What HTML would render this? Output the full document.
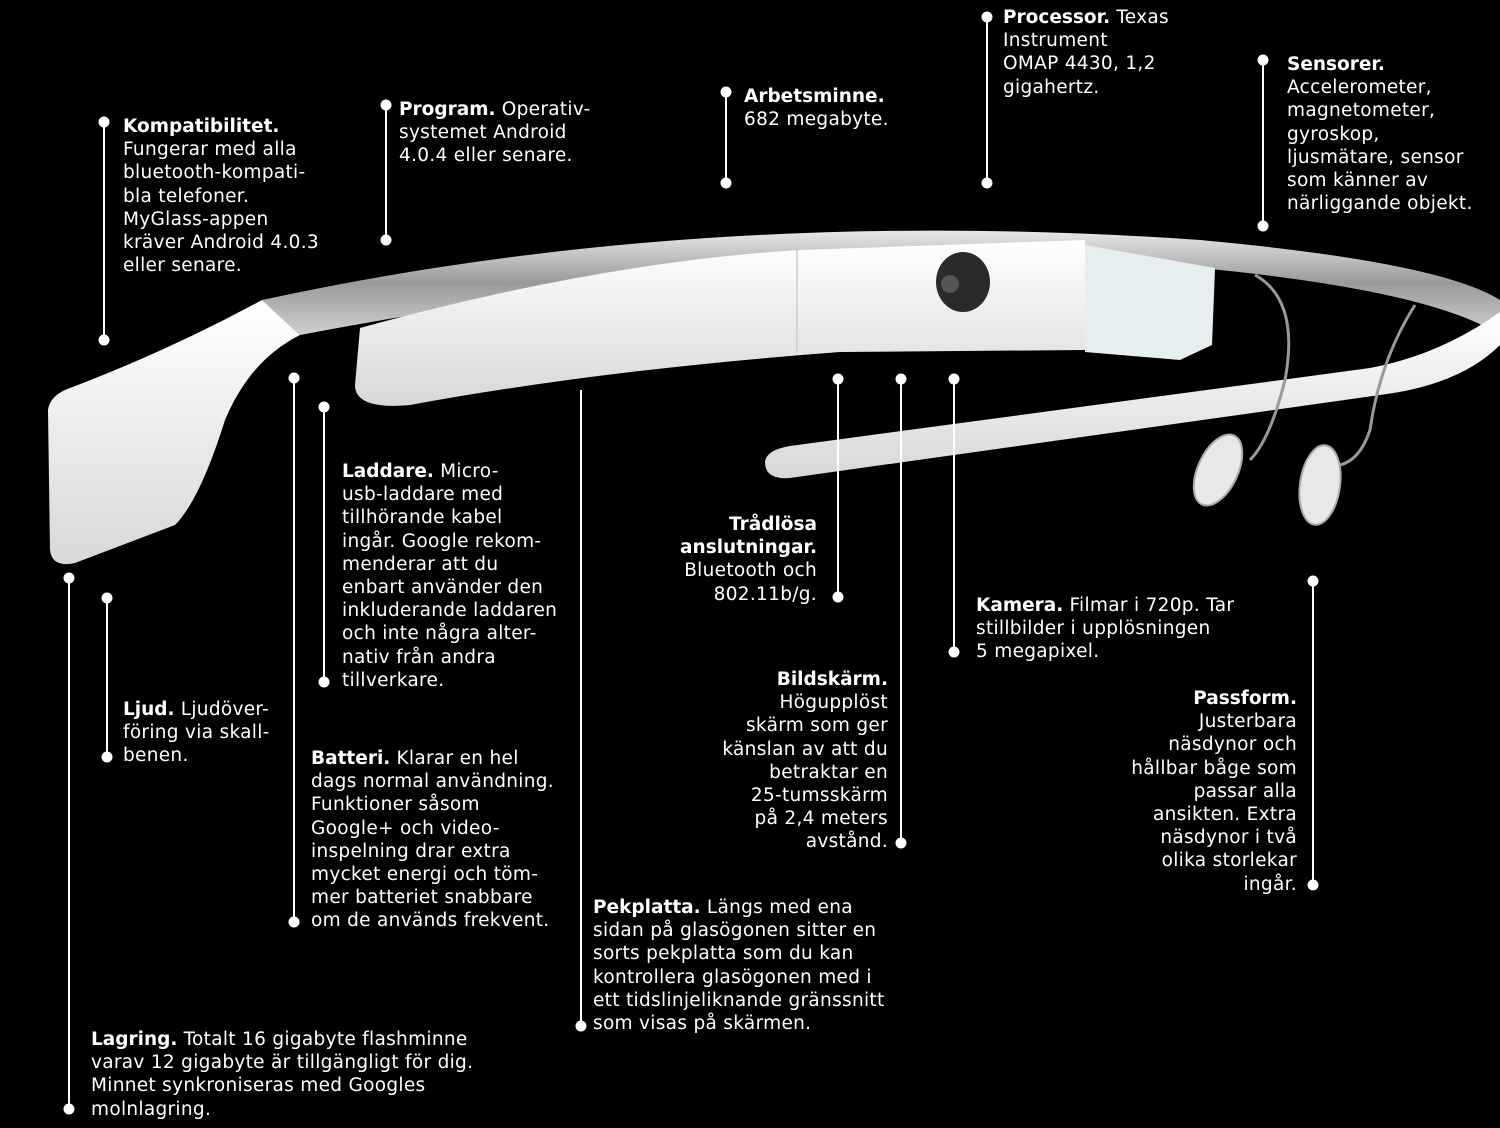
<!DOCTYPE html>
<html><head><meta charset="utf-8"><style>
body{margin:0;background:#000;width:1500px;height:1128px;overflow:hidden;position:relative;font-family:"DejaVu Sans","Liberation Sans",sans-serif;}
.t{position:absolute;color:#fff;font-size:18.5px;line-height:23.2px;white-space:nowrap;letter-spacing:0.3px}
.r{text-align:right}
b{font-weight:bold;letter-spacing:0}
svg{position:absolute;left:0;top:0}
</style></head><body>
<svg width="1500" height="1128">
<defs>
<linearGradient id="band" x1="0" y1="0" x2="0" y2="1"><stop offset="0" stop-color="#e8e8e8"/><stop offset="0.5" stop-color="#9a9a9a"/><stop offset="1" stop-color="#d0d0d0"/></linearGradient>
<linearGradient id="wh" x1="0" y1="0" x2="0" y2="1"><stop offset="0" stop-color="#ffffff"/><stop offset="1" stop-color="#d8d8d8"/></linearGradient>
</defs>
<path d="M262,300 Q700,205 1200,240 Q1440,262 1500,300 L1500,335 Q1430,290 1200,268 Q800,240 300,335 Z" fill="url(#band)"/>
<path d="M1500,312 L1500,345 Q1460,385 1380,395 L790,478 Q765,480 765,462 Q766,450 790,446 L1370,368 Q1440,355 1500,312 Z" fill="url(#wh)"/>
<path d="M262,300 L300,335 Q250,360 225,420 Q200,500 175,525 L75,563 Q52,568 50,550 L48,410 Q50,395 70,388 Q170,350 262,300 Z" fill="url(#wh)"/>
<path d="M360,328 Q600,262 800,250 L1085,240 L1085,350 L840,352 Q600,370 410,405 Q355,410 355,385 Z" fill="url(#wh)"/>
<line x1="797" y1="250" x2="797" y2="352" stroke="#ccc" stroke-width="1.5"/>
<path d="M1085,245 L1215,268 L1212,345 L1180,360 L1085,352 Z" fill="#e6eef0"/>
<ellipse cx="963" cy="282" rx="27" ry="30" fill="#2a2a2a"/>
<circle cx="950" cy="284" r="9" fill="#555"/>
<path d="M1255,275 Q1300,300 1285,380 Q1270,440 1250,460" stroke="#999" stroke-width="3" fill="none"/>
<path d="M1415,305 Q1380,360 1370,430 Q1360,460 1340,465" stroke="#999" stroke-width="3" fill="none"/>
<ellipse cx="1218" cy="470" rx="20" ry="38" transform="rotate(25 1218 470)" fill="#e8e8e8" stroke="#aaa" stroke-width="2"/>
<ellipse cx="1320" cy="485" rx="20" ry="40" transform="rotate(8 1320 485)" fill="#e8e8e8" stroke="#aaa" stroke-width="2"/>
<g stroke="#fff" stroke-width="2" fill="#fff">
<line x1="104" y1="122" x2="104" y2="340"/><circle cx="104" cy="122" r="4.5"/><circle cx="104" cy="340" r="4.5"/>
<line x1="386" y1="105" x2="386" y2="240"/><circle cx="386" cy="105" r="4.5"/><circle cx="386" cy="240" r="4.5"/>
<line x1="726" y1="92" x2="726" y2="183"/><circle cx="726" cy="92" r="4.5"/><circle cx="726" cy="183" r="4.5"/>
<line x1="987" y1="17" x2="987" y2="183"/><circle cx="987" cy="17" r="4.5"/><circle cx="987" cy="183" r="4.5"/>
<line x1="1263" y1="60" x2="1263" y2="226"/><circle cx="1263" cy="60" r="4.5"/><circle cx="1263" cy="226" r="4.5"/>
<line x1="324" y1="407" x2="324" y2="682"/><circle cx="324" cy="407" r="4.5"/><circle cx="324" cy="682" r="4.5"/>
<line x1="838" y1="379" x2="838" y2="597"/><circle cx="838" cy="379" r="4.5"/><circle cx="838" cy="597" r="4.5"/>
<line x1="107" y1="598" x2="107" y2="757"/><circle cx="107" cy="598" r="4.5"/><circle cx="107" cy="757" r="4.5"/>
<line x1="294" y1="378" x2="294" y2="922"/><circle cx="294" cy="378" r="4.5"/><circle cx="294" cy="922" r="4.5"/>
<line x1="901" y1="379" x2="901" y2="843"/><circle cx="901" cy="379" r="4.5"/><circle cx="901" cy="843" r="4.5"/>
<line x1="954" y1="379" x2="954" y2="652"/><circle cx="954" cy="379" r="4.5"/><circle cx="954" cy="652" r="4.5"/>
<line x1="1313" y1="581" x2="1313" y2="885"/><circle cx="1313" cy="581" r="4.5"/><circle cx="1313" cy="885" r="4.5"/>
<line x1="581" y1="390" x2="581" y2="1026"/><circle cx="581" cy="1026" r="4.5"/>
<line x1="69" y1="578" x2="69" y2="1109"/><circle cx="69" cy="578" r="4.5"/><circle cx="69" cy="1109" r="4.5"/>
</g>
</svg>
<div class="t" style="left:123px;top:115px"><b>Kompatibilitet.</b><br>Fungerar med alla<br>bluetooth-kompati-<br>bla telefoner.<br>MyGlass-appen<br>kräver Android 4.0.3<br>eller senare.</div>
<div class="t" style="left:399px;top:98px"><b>Program.</b> Operativ-<br>systemet Android<br>4.0.4 eller senare.</div>
<div class="t" style="left:744px;top:85px"><b>Arbetsminne.</b><br>682 megabyte.</div>
<div class="t" style="left:1003px;top:6px"><b>Processor.</b> Texas<br>Instrument<br>OMAP 4430, 1,2<br>gigahertz.</div>
<div class="t" style="left:1287px;top:53px"><b>Sensorer.</b><br>Accelerometer,<br>magnetometer,<br>gyroskop,<br>ljusmätare, sensor<br>som känner av<br>närliggande objekt.</div>
<div class="t" style="left:342px;top:460px"><b>Laddare.</b> Micro-<br>usb-laddare med<br>tillhörande kabel<br>ingår. Google rekom-<br>menderar att du<br>enbart använder den<br>inkluderande laddaren<br>och inte några alter-<br>nativ från andra<br>tillverkare.</div>
<div class="t r" style="right:683px;top:513px"><b>Trådlösa<br>anslutningar.</b><br>Bluetooth och<br>802.11b/g.</div>
<div class="t" style="left:123px;top:698px"><b>Ljud.</b> Ljudöver-<br>föring via skall-<br>benen.</div>
<div class="t" style="left:311px;top:747px"><b>Batteri.</b> Klarar en hel<br>dags normal användning.<br>Funktioner såsom<br>Google+ och video-<br>inspelning drar extra<br>mycket energi och töm-<br>mer batteriet snabbare<br>om de används frekvent.</div>
<div class="t r" style="right:612px;top:668px"><b>Bildskärm.</b><br>Högupplöst<br>skärm som ger<br>känslan av att du<br>betraktar en<br>25-tumsskärm<br>på 2,4 meters<br>avstånd.</div>
<div class="t" style="left:976px;top:594px"><b>Kamera.</b> Filmar i 720p. Tar<br>stillbilder i upplösningen<br>5 megapixel.</div>
<div class="t r" style="right:203px;top:687px"><b>Passform.</b><br>Justerbara<br>näsdynor och<br>hållbar båge som<br>passar alla<br>ansikten. Extra<br>näsdynor i två<br>olika storlekar<br>ingår.</div>
<div class="t" style="left:593px;top:896px"><b>Pekplatta.</b> Längs med ena<br>sidan på glasögonen sitter en<br>sorts pekplatta som du kan<br>kontrollera glasögonen med i<br>ett tidslinjeliknande gränssnitt<br>som visas på skärmen.</div>
<div class="t" style="left:91px;top:1028px"><b>Lagring.</b> Totalt 16 gigabyte flashminne<br>varav 12 gigabyte är tillgängligt för dig.<br>Minnet synkroniseras med Googles<br>molnlagring.</div>
</body></html>
